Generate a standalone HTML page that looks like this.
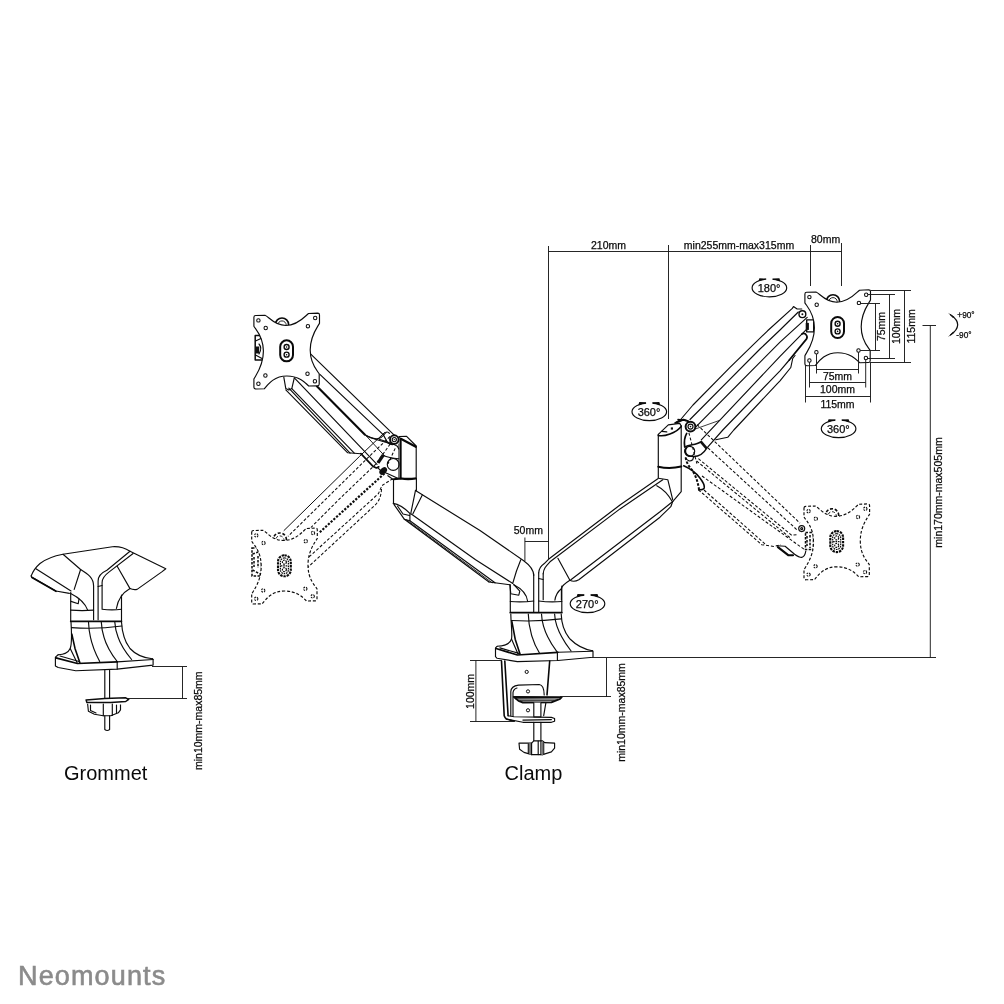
<!DOCTYPE html>
<html><head><meta charset="utf-8"><title>Neomounts dimensions</title>
<style>
html,body{margin:0;padding:0;background:#fff;}
body{width:1004px;height:1004px;overflow:hidden;position:relative;font-family:"Liberation Sans",sans-serif;}
svg{position:absolute;left:0;top:0;display:block;will-change:transform;}
svg text{font-family:"Liberation Sans",sans-serif;fill:#0a0a0a;stroke:#0a0a0a;stroke-width:0.25px;}
.d{font-size:10.5px;}
.s{font-size:8.3px;}
.r{font-size:11px;}
.big{font-size:20px;stroke-width:0;}
.ln{fill:none;stroke:#0c0c0c;stroke-width:1.15;stroke-linecap:round;stroke-linejoin:round;}
.th{fill:none;stroke:#1a1a1a;stroke-width:0.95;}
.hv{fill:none;stroke:#080808;stroke-width:2.1;stroke-linecap:round;stroke-linejoin:round;}
.xh{fill:none;stroke:#111;stroke-width:2.6;stroke-linecap:butt;}
.wf{fill:#fff;stroke:#0c0c0c;stroke-width:1.15;stroke-linejoin:round;}
.ds{fill:none;stroke:#0c0c0c;stroke-width:1.05;stroke-dasharray:3 1.9;}
.dsw{fill:#fff;stroke:#0c0c0c;stroke-width:1.15;stroke-dasharray:3.2 1.8;}
.bk{fill:#111;stroke:none;}
.logo{position:absolute;left:17.9px;top:960.9px;font-size:27px;font-weight:normal;color:#8b8b8b;letter-spacing:1.15px;line-height:30px;-webkit-text-stroke:0.6px #8b8b8b;white-space:nowrap;will-change:transform;}
</style></head>
<body>
<svg width="1004" height="1004" viewBox="0 0 1004 1004">
<!-- defs.svg -->

<!-- leftarm.svg -->
<g id="leftarm">
<!-- dashed lower position -->
<g id="la-dashed">
<path class="ln" style="stroke-width:1" d="M384.6 432.5L359.3 456.6L284 530.5"/>
<path class="ds" d="M390 436.5L367.7 457.9L288 536.4"/>
<path class="ds" d="M393 440L376 463.9L338.4 500L310.9 527.5"/>
<path class="ds" d="M395.2 448.4L388 463.9"/>
<path class="ds" style="stroke-width:2.2;stroke-dasharray:2.2 1.5" d="M384.4 473.5L318.7 533.2"/>
<path class="ds" d="M398 478.7L391.6 479.4L382 485.5L378.4 493.7L371.5 500L306 559.7"/>
<path class="ds" d="M381.5 489C381 497 379 501 375 505.2L305.5 569.5"/>
<g class="ds" style="stroke-width:1.5;stroke-dasharray:2.5 1.4"><rect x="252" y="548" width="9.5" height="28" fill="#fff"/><path d="M252.5 554L261 551M252.5 570L260 574M254 557V567M258 556V568"/></g>
<g transform="translate(-553.2 238.3)">
<circle cx="833" cy="301.3" r="6.6" fill="#fff" stroke="#0a0a0a" stroke-width="1.6" stroke-dasharray="3 1.8"/>
<circle cx="833" cy="301.8" r="4.2" fill="none" stroke="#0c0c0c" stroke-width="0.9" stroke-dasharray="3 1.8"/>
<path fill="#fff" stroke="#0c0c0c" stroke-width="1.15" stroke-linejoin="round" stroke-dasharray="3 1.8" d="M804.9 294Q804.9 292.2 806.7 292.2L816 292C819.5 293 825 302.2 836.8 302.2C849 302.2 856 293 859.5 290.2L868.7 289.8Q870.5 289.8 870.5 291.6L870.5 299.9C868.5 304 861.2 312 861.2 326.8C861.2 341 868 347 870.2 350.5L870.2 360.7Q870.2 362.5 868.5 362.5L859.7 362.7C856 359 850 352.7 837.8 352.7C825 352.7 819 361 815.4 365.5L806.9 365.7Q804.9 365.7 804.9 364L804.9 355.7C807 351.5 814.4 343 814.4 327.8C814.4 313 807 306.5 804.9 302.9Z"/>
<g fill="#fff" stroke="#0c0c0c" stroke-width="1.05" stroke-dasharray="1.7 0.9"><circle cx="809.4" cy="297.1" r="1.7"/><circle cx="866.2" cy="294.7" r="1.7"/><circle cx="809.4" cy="360.5" r="1.7"/><circle cx="865.9" cy="358" r="1.7"/><circle cx="816.7" cy="304.7" r="1.7"/><circle cx="858.9" cy="302.9" r="1.7"/><circle cx="816.4" cy="352.2" r="1.7"/><circle cx="858.5" cy="350.5" r="1.7"/></g>
<rect x="831.2" y="317" width="12.8" height="21" rx="6.4" fill="#fff" stroke="#0a0a0a" stroke-width="2.1" stroke-dasharray="2.4 0.9"/>
<g fill="none" stroke="#0c0c0c" stroke-width="1.2" stroke-dasharray="1.6 0.8"><rect x="833.6" y="319.6" width="8" height="15.8" rx="4"/><circle cx="837.6" cy="323.8" r="2"/><circle cx="837.6" cy="331.3" r="2"/><path d="M834 327.5H841.2"/></g>
</g>
</g>
<!-- solid upper arm -->
<g id="la-upper">
<path class="ln" d="M309.5 352.9L395.5 436.4"/>
<path class="ln" d="M319.9 374.4L383.2 434.6L387.7 442.8Q391 445.5 394.6 444.2"/>
<path class="hv" d="M316.9 386.3L364.7 434.6"/>
<path class="ln" d="M364.7 434.6C370 438 376 440.5 381 437.5C384 435.5 385 433 386.2 432.2Q388 431.5 389.4 433.4"/>
<path class="ln" d="M366.3 435.8C374 439.5 384 442 394.2 444.5"/>
<path class="ln" d="M294.3 377.8L377 464.3"/>
<path class="ln" d="M291.8 388.7L354.3 453.1"/>
<path class="ln" d="M288.8 388.1L350.1 453.1"/>
<path class="ln" d="M285.8 389.9L347.7 452.8L360.9 453.7"/>
<path class="hv" style="stroke-width:1.7" d="M360.9 453.7L372.8 466.2L376.4 468L378.8 466.8"/>
<path class="ln" style="stroke-width:0.9" d="M365.6 435.2L384.8 456.1"/>
<path class="ln" d="M283.8 377.2L285.8 388.6L288.8 390.1L291.8 388.6L294.3 377.8"/>
</g>
<!-- elbow -->
<g id="la-elbow">
<circle class="ln" cx="393.2" cy="464.4" r="5.9"/>
<path class="ln" d="M382.8 455.3Q389 458.1 398.8 458.8"/>
<path class="xh" style="stroke-width:3.2" d="M383.3 455L378 462.8"/>
<ellipse class="bk" cx="383.2" cy="471" rx="4.4" ry="3" transform="rotate(-42 383.2 471)"/>
<path class="ln" d="M379.3 439.3C386 441.5 395 444.5 397.4 446.3L398.8 449"/>
<path class="ln" d="M377.9 467.9L380.7 470.7L389 474.2L398.8 478.7"/>
<path class="wf" d="M399 436.5L406.6 436.3L416.2 446L416.2 478.3L400.8 478.3L400.8 439Z"/>
<path class="hv" d="M400.8 438.8L415.8 446.8"/>
<path class="ln" style="stroke-width:0.8" d="M398.8 444V478.5"/>
<path class="hv" style="stroke-width:1.9" d="M400.5 439V478.3"/>
<path class="hv" d="M393.7 479.2L400.8 478.5Q408 479.7 415.8 478.5"/>
<circle class="wf" cx="394.3" cy="439.6" r="4.3" style="stroke-width:1.9"/>
<circle class="ln" cx="394.3" cy="439.6" r="2.1"/>
<circle class="bk" cx="394.3" cy="439.6" r="0.7"/>
<path class="ln" d="M387.9 475.7L393.5 479.7V503.6"/>
</g>
<!-- lower arm -->
<g id="la-lower">
<path class="ln" d="M416.4 478.5V490.4"/>
<path class="ln" d="M415.5 490.4L480 530.5L523.7 560.8C529.5 565 533.7 570 533.7 575.5"/>
<path class="ln" d="M415.5 490.4L410.9 512.8M422.3 494.9L412.9 513.8"/>
<path class="ln" d="M410.9 513.8L475.6 559.8L512.8 583.5"/>
<path class="ln" d="M520.8 559.8Q516 571 512.8 583.2"/>
<path class="ln" d="M393.2 503.4C398 504 405 508.5 410.4 513.8M393.9 504.4L399.9 512.8L404.4 519.3L409.9 520.8V513.8"/>
<path class="ln" d="M397.5 506L403 514L409.5 515.5"/>
<path class="ln" d="M409.9 520.8L495 582.8M404.4 519.3L489 582"/>
<path class="ln" style="stroke-width:0.9" d="M406.8 520L492 582.7"/>
<path class="ln" d="M489 582L509.8 584.7"/>
<path class="ln" d="M509.8 584.7L510.8 593.7L518.8 595.2L519.8 591.2L513.8 584.7"/>
</g>
<!-- plate pivot mechanism -->
<g id="la-pm">
<rect x="255.2" y="335.5" width="9" height="24.5" class="wf" style="stroke-width:1.5"/>
<path class="ln" d="M255.5 341L262 338M255.5 355L262 358.5M259 344Q262.5 348 259 354"/>
<rect x="255.6" y="346.5" width="3.6" height="7" class="bk"/>
</g>
<g transform="translate(-551 23.3)">
<circle cx="833" cy="301.3" r="6.6" fill="#fff" stroke="#0a0a0a" stroke-width="1.6"/>
<circle cx="833" cy="301.8" r="4.2" fill="none" stroke="#0c0c0c" stroke-width="0.9"/>
<path fill="#fff" stroke="#0c0c0c" stroke-width="1.15" stroke-linejoin="round" d="M804.9 294Q804.9 292.2 806.7 292.2L816 292C819.5 293 825 302.2 836.8 302.2C849 302.2 856 293 859.5 290.2L868.7 289.8Q870.5 289.8 870.5 291.6L870.5 299.9C868.5 304 861.2 312 861.2 326.8C861.2 341 868 347 870.2 350.5L870.2 360.7Q870.2 362.5 868.5 362.5L859.7 362.7C856 359 850 352.7 837.8 352.7C825 352.7 819 361 815.4 365.5L806.9 365.7Q804.9 365.7 804.9 364L804.9 355.7C807 351.5 814.4 343 814.4 327.8C814.4 313 807 306.5 804.9 302.9Z"/>
<g fill="#fff" stroke="#0c0c0c" stroke-width="1.05"><circle cx="809.4" cy="297.1" r="1.7"/><circle cx="866.2" cy="294.7" r="1.7"/><circle cx="809.4" cy="360.5" r="1.7"/><circle cx="865.9" cy="358" r="1.7"/><circle cx="816.7" cy="304.7" r="1.7"/><circle cx="858.9" cy="302.9" r="1.7"/><circle cx="816.4" cy="352.2" r="1.7"/><circle cx="858.5" cy="350.5" r="1.7"/></g>
<rect x="831.2" y="317" width="12.8" height="21" rx="6.4" fill="#fff" stroke="#0a0a0a" stroke-width="2"/>
<g fill="none" stroke="#0c0c0c" stroke-width="1.35"><circle cx="837.6" cy="323.7" r="2.5"/><circle cx="837.6" cy="331.4" r="2.5"/></g><g fill="#0c0c0c"><circle cx="837.6" cy="323.7" r="0.8"/><circle cx="837.6" cy="331.4" r="0.8"/></g>
</g>
</g>

<!-- rightarm.svg -->
<g id="rightarm">
<!-- lower arm (solid) -->
<g id="ra-lower">
<path class="ln" d="M538.7 572.8C539 568 541.5 565.5 544 563.8L548.5 559.3L620 505L657.8 478.8"/>
<path class="ln" d="M543.2 573.8C543.5 569 545.5 566.5 550 561.8L620 508.9L662.8 479.8"/>
<path class="ln" d="M557.9 558.3L569.9 580.3"/>
<path class="ln" d="M569.9 580.3Q574 582.5 578.8 579.8L660 517.2L670.8 506.7L672.8 501.3"/>
<path class="ln" d="M570.9 579.8L660 511.8L671.8 502.3"/>
<path class="ln" d="M569.9 580.3C564 584 561.8 586 561.4 588.7V600"/>
<path class="ln" d="M561.4 588.7C557 592 555.5 596 554.9 600.2"/>
<path class="ln" d="M658.3 478.2L667.8 479.7L672.7 499.6"/>
<path class="ln" d="M656.8 485.7C663 489 669 495.5 672.2 501.6"/>
</g>
<!-- elbow column -->
<g id="ra-elbow">
<path class="ln" d="M658.3 434.4V477.7M681.2 425.9V491.7L672.7 501.6"/>
<path class="ln" d="M658.3 434.4L668.3 424.9L679.7 423.4L681.2 425.9"/>
<path class="hv" style="stroke-width:1.6" d="M658.3 435.4C664 437 676 433 681.2 426.4"/>
<rect class="bk" x="670.8" y="427.4" width="2.2" height="2.2"/>
<path class="ln" d="M661.8 431.4L666.8 431.9"/>
<path class="hv" d="M658.3 466.8Q669.8 469.3 681.2 466.6"/>
<path class="ln" d="M674.7 422.9L679.7 420L687.7 420.5"/>
<path class="hv" style="stroke-width:1.9" d="M675.8 422.8L683.5 419.6L688.5 421.3"/>
<path class="hv" style="stroke-width:1.5" d="M678 419.5L686 420.5"/>
</g>
<!-- dashed lower position -->
<g id="ra-dashed">
<path class="ds" d="M697 424.6L800 523.2"/>
<path class="ds" d="M707.9 447.9L797.6 530.4"/>
<path class="ds" d="M698.4 458.7L791.6 535.2L797 534.6M696.6 461L789.8 537.5"/>
<path class="ds" d="M702 476L804.7 549.7"/>
<path class="ds" d="M698.4 489.8L761.7 544.7L773.7 546.5L780.8 544.7M704 490L765 544"/>
<path class="ds" d="M688.9 432.8L696.9 463.7"/>
<path class="ds" style="stroke-width:2;stroke-dasharray:2.6 1.5" d="M685.7 457.5C686 462 689 466.5 692 470C695.5 475 698 482 699 489.5"/>
<path class="hv" style="stroke-width:1.6" d="M683.7 465.8C690 468.5 696 473 699.7 477.8C703 482 705 485 704.2 488Q703.5 490 698.7 489.8"/>
<path class="ln" d="M777.1 545.8L785.1 546.2L794.6 554.2Q799 557.5 801.8 557.4Q805 556.5 805.8 551"/>
<path class="hv" d="M777.9 547.2L788.2 555.2L793 555.2"/>
<circle class="wf" cx="801.7" cy="528.6" r="3" style="stroke-dasharray:none"/>
<circle class="ln" cx="801.7" cy="528.6" r="1"/>
<g class="ds" style="stroke-width:1.5;stroke-dasharray:2.5 1.4"><rect x="805.5" y="532.5" width="8" height="17" fill="#fff"/><path d="M807 536V546M810 535V548"/></g>
<g transform="translate(-0.9 214.1)">
<circle cx="833" cy="301.3" r="6.6" fill="#fff" stroke="#0a0a0a" stroke-width="1.6" stroke-dasharray="3 1.8"/>
<circle cx="833" cy="301.8" r="4.2" fill="none" stroke="#0c0c0c" stroke-width="0.9" stroke-dasharray="3 1.8"/>
<path fill="#fff" stroke="#0c0c0c" stroke-width="1.15" stroke-linejoin="round" stroke-dasharray="3 1.8" d="M804.9 294Q804.9 292.2 806.7 292.2L816 292C819.5 293 825 302.2 836.8 302.2C849 302.2 856 293 859.5 290.2L868.7 289.8Q870.5 289.8 870.5 291.6L870.5 299.9C868.5 304 861.2 312 861.2 326.8C861.2 341 868 347 870.2 350.5L870.2 360.7Q870.2 362.5 868.5 362.5L859.7 362.7C856 359 850 352.7 837.8 352.7C825 352.7 819 361 815.4 365.5L806.9 365.7Q804.9 365.7 804.9 364L804.9 355.7C807 351.5 814.4 343 814.4 327.8C814.4 313 807 306.5 804.9 302.9Z"/>
<g fill="#fff" stroke="#0c0c0c" stroke-width="1.05" stroke-dasharray="1.7 0.9"><circle cx="809.4" cy="297.1" r="1.7"/><circle cx="866.2" cy="294.7" r="1.7"/><circle cx="809.4" cy="360.5" r="1.7"/><circle cx="865.9" cy="358" r="1.7"/><circle cx="816.7" cy="304.7" r="1.7"/><circle cx="858.9" cy="302.9" r="1.7"/><circle cx="816.4" cy="352.2" r="1.7"/><circle cx="858.5" cy="350.5" r="1.7"/></g>
<rect x="831.2" y="317" width="12.8" height="21" rx="6.4" fill="#fff" stroke="#0a0a0a" stroke-width="2.1" stroke-dasharray="2.4 0.9"/>
<g fill="none" stroke="#0c0c0c" stroke-width="1.2" stroke-dasharray="1.6 0.8"><rect x="833.6" y="319.6" width="8" height="15.8" rx="4"/><circle cx="837.6" cy="323.8" r="2"/><circle cx="837.6" cy="331.3" r="2"/><path d="M834 327.5H841.2"/></g>
</g>
</g>
<!-- upper arm (solid) -->
<g id="ra-upper">
<path class="ln" d="M681.1 419L693 405L730 367.4L767.6 330.8L792.3 308.4L793.5 306.6L797.1 309L801.8 309"/>
<path class="ln" d="M690 419.5L760 349L780 330L798.3 312"/>
<path class="ln" d="M695.9 426.8L780 342.2L807.2 317.3"/>
<path class="ln" d="M701.3 439.8L780 356.4L801.8 334.1L806 329.9"/>
<path class="ln" d="M706.8 448.2L722.8 430L780 370.8L789.3 360"/>
<path class="hv" style="stroke-width:1.7" d="M789.3 360L806.6 338.9Q808 336.5 805.5 334Q803.5 332.8 801.8 334.1"/>
<path class="ln" d="M715.8 439.8L727.7 437.3L733.8 430L780 380.8L790.8 367.5L792.7 358.5L795 355.5"/>
<path class="ln" style="stroke-width:0.8" d="M695.9 428.8L719.8 420.3"/>
<path class="xh" d="M700.6 441.4L706.6 448.3"/>
<path class="hv" style="stroke-width:1.7" d="M686.7 433.4C684 438 684 442 684.7 446.9"/>
<path class="ln" style="stroke-width:1.4" d="M684.7 446.9C690 444 696 445.5 700.6 441.9"/>
<path class="hv" style="stroke-width:1.7" d="M686.7 447.4C683.5 451 686 455 688.7 455.8"/>
<path class="ln" style="stroke-width:1.4" d="M688.7 455.8C695 457.5 702 456 706.6 448.3"/>
<circle class="ln" cx="689.7" cy="451.3" r="5"/>
<path class="ln" d="M685.7 457.8Q688.7 463 692.7 459.8L693.7 456.8"/>
<circle class="wf" cx="690.5" cy="426.6" r="4.9" style="stroke-width:2"/>
<circle class="ln" cx="690.5" cy="426.6" r="2.5"/>
<circle class="bk" cx="690.5" cy="426.6" r="0.8"/>
</g>
<g id="ra-pm">
<rect x="806.7" y="319.9" width="7" height="12" class="wf" style="stroke-width:1.4"/>
<rect x="805.7" y="322.9" width="3.2" height="7" class="bk"/>
<circle class="wf" cx="802.4" cy="314.2" r="3.4" style="stroke-width:1.4"/>
<circle class="bk" cx="802.4" cy="314.2" r="1"/>
</g>
<g transform="translate(0 0)">
<circle cx="833" cy="301.3" r="6.6" fill="#fff" stroke="#0a0a0a" stroke-width="1.6"/>
<circle cx="833" cy="301.8" r="4.2" fill="none" stroke="#0c0c0c" stroke-width="0.9"/>
<path fill="#fff" stroke="#0c0c0c" stroke-width="1.15" stroke-linejoin="round" d="M804.9 294Q804.9 292.2 806.7 292.2L816 292C819.5 293 825 302.2 836.8 302.2C849 302.2 856 293 859.5 290.2L868.7 289.8Q870.5 289.8 870.5 291.6L870.5 299.9C868.5 304 861.2 312 861.2 326.8C861.2 341 868 347 870.2 350.5L870.2 360.7Q870.2 362.5 868.5 362.5L859.7 362.7C856 359 850 352.7 837.8 352.7C825 352.7 819 361 815.4 365.5L806.9 365.7Q804.9 365.7 804.9 364L804.9 355.7C807 351.5 814.4 343 814.4 327.8C814.4 313 807 306.5 804.9 302.9Z"/>
<g fill="#fff" stroke="#0c0c0c" stroke-width="1.05"><circle cx="809.4" cy="297.1" r="1.7"/><circle cx="866.2" cy="294.7" r="1.7"/><circle cx="809.4" cy="360.5" r="1.7"/><circle cx="865.9" cy="358" r="1.7"/><circle cx="816.7" cy="304.7" r="1.7"/><circle cx="858.9" cy="302.9" r="1.7"/><circle cx="816.4" cy="352.2" r="1.7"/><circle cx="858.5" cy="350.5" r="1.7"/></g>
<rect x="831.2" y="317" width="12.8" height="21" rx="6.4" fill="#fff" stroke="#0a0a0a" stroke-width="2"/>
<g fill="none" stroke="#0c0c0c" stroke-width="1.35"><circle cx="837.6" cy="323.7" r="2.5"/><circle cx="837.6" cy="331.4" r="2.5"/></g><g fill="#0c0c0c"><circle cx="837.6" cy="323.7" r="0.8"/><circle cx="837.6" cy="331.4" r="0.8"/></g>
</g>
</g>

<!-- clamp.svg -->
<g id="clamp">
<!-- columns -->
<g id="columns">
<path class="ln" d="M510.3 584.7V612.5M533.7 573.8V612.5M538.7 572.8V612.5M561.8 586V612.5"/>
<path class="ln" d="M513.8 584.7C521.8 588.7 527 595 527.7 601.5"/>
<path class="ln" d="M510.3 601.5Q522 602.5 533.7 601"/>
<path class="ln" d="M538.7 601Q550 602.5 561.8 601.5"/>
<path class="ln" d="M543.2 599.7V573.8"/>
<path class="ln" d="M538.7 578.5L543.2 579.5"/>
<path class="hv" style="stroke-width:1.7" d="M510.3 612.7H561.8"/>
</g>
<!-- flare -->
<g id="flare">
<path class="ln" d="M510.8 614C511 624 512.5 634 511.5 639C510 644 504 646 497.1 646.3"/>
<path class="ln" d="M561.2 614C561.5 624 564 632 570 639C577 646 585 649.5 592.4 650.7"/>
<path class="ln" d="M511.4 620.5Q536 622 561.2 618.9"/>
<path class="ln" d="M528.3 614C528.5 628 533 643 539.3 652.7"/>
<path class="ln" d="M541.5 614C542 626 548 640 557.4 652.3"/>
<path class="ln" d="M554.6 614C555 624 561 638 571.1 651"/>
<path class="hv" style="stroke-width:1.6" d="M511.9 621.6L515.2 639.2L520.1 654.2"/>
<path class="ln" d="M511.5 639L518 654"/>
<path class="ln" d="M497.1 646.3L495.5 647.9V656.7L497.1 658.3L517.4 661.6L557.9 660.5L593 657.2V651.2L592.4 650.7"/>
<path class="hv" style="stroke-width:1.7" d="M496 648.5L517.4 655L557.9 652.3"/>
<path class="ln" d="M557.9 652.3L592.4 651.2"/>
<path class="ln" d="M499.9 647.9L519 653.4"/>
<path class="ln" d="M557.4 652.3V660.5"/>
</g>
<!-- c clamp -->
<g id="cclamp">
<path class="hv" style="stroke-width:1.6" d="M501.5 661L504.2 715.7Q505 718 506.4 719L514.1 721.2"/>
<path class="hv" style="stroke-width:1.6" d="M504.8 661L508.1 715.7"/>
<path class="ln" d="M506.4 719L522.9 722.3H551.4L554.6 721.2V718.5L551.4 717.4L514.1 716.8L508.1 715.7"/>
<path class="ln" d="M522.9 720.1L551.4 719.6"/>
<path class="hv" style="stroke-width:1.6" d="M549.7 661L547 694.9"/>
<path class="ln" d="M545.9 702.6L543.7 715.7"/>
<path class="ln" d="M510.8 715.7V691.6Q511 686 518.5 685.1L539.3 684.5Q544 685 544.2 694.9"/>
<path class="ln" d="M513 715.7V692.7Q513.5 689 517 688"/>
<g fill="#fff" stroke="#0c0c0c" stroke-width="1"><circle cx="526.7" cy="671.9" r="1.6"/><circle cx="528" cy="691.4" r="1.6"/><circle cx="528" cy="710.3" r="1.6"/></g>
<path class="wf" style="stroke-width:1.8" d="M513.6 696.8L561.8 697.1L560.1 698.8L551.4 702.4L522.9 702.6L518.5 700.9Z"/>
<path class="ln" d="M516 698.8L558 699M520 700.8L554 700.7"/>
<path class="wf" d="M533.8 702.6V716.8H540.9V702.6"/>
<path class="ln" d="M533.8 722.3V741M540.9 722.3V741"/>
<path class="wf" d="M519 743.1L519.6 749.2L524 752.4L531.6 754.6H542.6L551.4 751.9L554.6 748.1V743.1L544.8 742.6L542.6 740.9H533.8L531.6 743.1Z"/>
<path class="ln" d="M528.3 744V753.5M531.6 743.1V754.6M538.2 741V754.6M540.9 741V754.6M543.7 742.6V754.3"/>
<path class="ln" style="stroke:#777;stroke-width:2" d="M530 744V754M542.3 743V754.5"/>
</g>
</g>

<!-- grommet.svg -->
<g id="grommet">
<!-- arm stubs -->
<path class="ln" d="M31.2 575.9C33 571 36 567 40 563.5C46 559 54 556 63 554.3L112.4 546.7Q122 546 130 551.2L165.8 568.7L161.8 571.9L137.1 589.4Q133 590 130 588.6"/>
<path class="ln" d="M31.2 575.9L31.5 577L55.9 591L69.4 593.4"/>
<path class="hv" style="stroke-width:1.7" d="M32 577.5L56 591.3"/>
<path class="ln" d="M35.9 568.7L71 591"/>
<path class="ln" d="M63 554.3L80.6 569.5L74.2 589.4"/>
<path class="ln" d="M80.6 569.5C88 574 93.6 578 93.6 586V619.7"/>
<path class="ln" d="M98.1 619.7V581C98.1 577 101 573 106.9 570.3L130 551.2"/>
<path class="ln" d="M102.1 608.5V582.5C102.1 578 105 575 109.2 571.9L133.1 553.5"/>
<path class="ln" d="M98.1 586.5L102.1 585.5"/>
<path class="ln" d="M117.2 566.3L130 588.6"/>
<path class="ln" d="M130 588.6C124 592 118 599 116.4 608.5"/>
<path class="ln" d="M121.5 595V621"/>
<path class="ln" d="M70.7 592.6V621.3"/>
<path class="ln" d="M70.7 593.4C78 597 85 603 87.7 610.1"/>
<path class="ln" d="M71 601.4L78.2 603.7L79 599"/>
<path class="ln" d="M70.7 610.1Q82 611 93.6 610.1M102.1 609.3Q112 610.5 121.5 609.3"/>
<path class="hv" style="stroke-width:1.7" d="M70.7 621.3H121.5"/>
<!-- flare -->
<path class="ln" d="M71.5 627.6Q96 629.5 121.8 626"/>
<path class="ln" d="M71 622.1C71.8 635 72 644 70.2 648.4C68 653 64 654.5 58.2 654.7"/>
<path class="ln" d="M121.5 622.1C122 634 125 642 130 648.5C136 655 144 658 152.3 658.7"/>
<path class="ln" d="M88.5 622.1C89 638 94 651 99.7 661.5"/>
<path class="ln" d="M101.3 622.1C102 638 108 650 117.2 661.5"/>
<path class="ln" d="M114.8 622.1C115.5 635 121 647 131.6 659.5"/>
<path class="hv" style="stroke-width:1.6" d="M71.8 634L75 648.4L79.8 662.5"/>
<path class="ln" d="M70.2 648.4L77 662.5"/>
<path class="ln" d="M58.2 654.7L55.4 657.1V665.9L58.2 667.5L75.8 670.7L117.2 669.1L153.1 665.1V659.5L152.3 658.7"/>
<path class="hv" style="stroke-width:1.7" d="M55.9 657.9L77.4 663.5L117.2 661.9"/>
<path class="ln" d="M117.2 661.9L153.1 659.5"/>
<path class="ln" d="M60 656L79 661.5"/>
<path class="ln" d="M117.2 661.9V669.1"/>
<!-- rod, washer, nut -->
<path class="ln" d="M104.8 670.2V697.8M109.6 670.2V697.8"/>
<path class="wf" style="stroke-width:1.5" d="M86.1 700L104.8 698.6L125.7 697.8L128.7 699.3L125.7 701.5L110.8 702.6H86.9Z"/>
<path class="wf" d="M87.6 703.8L88.4 711.3L94.4 714.2L103.3 715.7H110.8L118.3 712.8L120.5 709.8V704.5"/>
<path class="ln" d="M90.5 705V710.5L96 713M103.3 704V715.7M112.3 704V715.5M116.5 705V712.5"/>
<path class="ln" d="M104.8 715.7V729.5Q107.2 731.5 109.6 729.5V715.7"/>
</g>

<!-- dims.svg -->
<g class="th" id="dims">
<path d="M548.5 246V559.3"/>
<path d="M548.5 251.5H841.5"/>
<path d="M668.5 245V419"/>
<path d="M810.5 245V286"/>
<path d="M841.5 243V286"/>
<path d="M860.6 303.5H880M860.2 350.5H880M875.5 303.5V350.5"/>
<path d="M867.9 294.5H895M867.6 358.5H895M889.5 294.5V358.5"/>
<path d="M870.5 290.5H911M870 362.5H911M904.5 290.5V362.5"/>
<path d="M816.5 354V373.5M858.5 352.2V373.5M816.5 369.5H858.5"/>
<path d="M809.5 362.2V387.5M865.7 359.7V387.5M809.5 382.5H865.7"/>
<path d="M805.5 365.5V402.5M870.5 362.5V402.5M805.5 396.5H870.5"/>
<path d="M922.5 325.5H936M930.3 325.5V658"/>
<path d="M592 657.5H936"/>
<path d="M606.5 658V697M560 696.5H611"/>
<path d="M524.9 537.5V561M524.9 541.5H548.5"/>
<path d="M470 660.5H502M470 721.5H514M475.9 660.5V721.5"/>
<path d="M152 666.5H187M128 698.5H187M182.5 666.5V698.5"/>
</g>

<!-- labels.svg -->
<g id="labels">
<text class="d" x="608.5" y="248.5" text-anchor="middle">210mm</text>
<text class="d" x="739" y="248.5" text-anchor="middle">min255mm-max315mm</text>
<text class="d" x="825.6" y="243" text-anchor="middle">80mm</text>
<text class="d" x="837.5" y="379.5" text-anchor="middle">75mm</text>
<text class="d" x="837.5" y="392.5" text-anchor="middle">100mm</text>
<text class="d" x="837.5" y="407.5" text-anchor="middle">115mm</text>
<text class="d" transform="translate(885 326.5) rotate(-90)" text-anchor="middle">75mm</text>
<text class="d" transform="translate(900 326.5) rotate(-90)" text-anchor="middle">100mm</text>
<text class="d" transform="translate(915 326.5) rotate(-90)" text-anchor="middle">115mm</text>
<text class="d" transform="translate(941.5 492.5) rotate(-90)" text-anchor="middle">min170mm-max505mm</text>
<text class="d" transform="translate(625 712.5) rotate(-90)" text-anchor="middle">min10mm-max85mm</text>
<text class="d" transform="translate(201.5 720.7) rotate(-90)" text-anchor="middle">min10mm-max85mm</text>
<text class="d" transform="translate(474 691.4) rotate(-90)" text-anchor="middle">100mm</text>
<text class="d" x="528.3" y="534" text-anchor="middle">50mm</text>
<text class="s" x="957.3" y="317.9">+90°</text>
<text class="s" x="956.3" y="338.1">-90°</text>
<path class="ln" style="stroke-width:1.25" d="M950.5 314.7C956 318.5 957.9 321.5 957.7 324.8C957.5 329 955 332 950.5 335"/>
<path class="bk" d="M948 312.7L954.3 316.7L953 318ZM948 336.9L954.3 332.7L953.2 331.5Z"/>
<g transform="translate(769.4 287.9)"><ellipse cx="0" cy="0" rx="17.3" ry="8.9" fill="#fff" stroke="#0c0c0c" stroke-width="1.15"/><rect x="-3.2" y="-10.5" width="6.3" height="3" fill="#fff"/><path fill="#0a0a0a" d="M-11 -6.7L-10 -9.6L-3.3 -9.4L-3.3 -8.7ZM11 -6.7L10 -9.6L3.2 -9.4L3.2 -8.7Z"/><text class="r" x="-0.3" y="4.1" text-anchor="middle">180°</text></g>
<g transform="translate(649.3 411.7)"><ellipse cx="0" cy="0" rx="17.3" ry="8.9" fill="#fff" stroke="#0c0c0c" stroke-width="1.15"/><rect x="-3.2" y="-10.5" width="6.3" height="3" fill="#fff"/><path fill="#0a0a0a" d="M-11 -6.7L-10 -9.6L-3.3 -9.4L-3.3 -8.7ZM11 -6.7L10 -9.6L3.2 -9.4L3.2 -8.7Z"/><text class="r" x="-0.3" y="4.1" text-anchor="middle">360°</text></g>
<g transform="translate(838.6 428.8)"><ellipse cx="0" cy="0" rx="17.3" ry="8.9" fill="#fff" stroke="#0c0c0c" stroke-width="1.15"/><rect x="-3.2" y="-10.5" width="6.3" height="3" fill="#fff"/><path fill="#0a0a0a" d="M-11 -6.7L-10 -9.6L-3.3 -9.4L-3.3 -8.7ZM11 -6.7L10 -9.6L3.2 -9.4L3.2 -8.7Z"/><text class="r" x="-0.3" y="4.1" text-anchor="middle">360°</text></g>
<g transform="translate(587.5 603.7)"><ellipse cx="0" cy="0" rx="17.3" ry="8.9" fill="#fff" stroke="#0c0c0c" stroke-width="1.15"/><rect x="-3.2" y="-10.5" width="6.3" height="3" fill="#fff"/><path fill="#0a0a0a" d="M-11 -6.7L-10 -9.6L-3.3 -9.4L-3.3 -8.7ZM11 -6.7L10 -9.6L3.2 -9.4L3.2 -8.7Z"/><text class="r" x="-0.3" y="4.1" text-anchor="middle">270°</text></g>
<text class="big" x="64" y="780">Grommet</text>
<text class="big" x="504.5" y="779.5">Clamp</text>
</g>

</svg>
<div class="logo">Neomounts</div>
</body></html>
